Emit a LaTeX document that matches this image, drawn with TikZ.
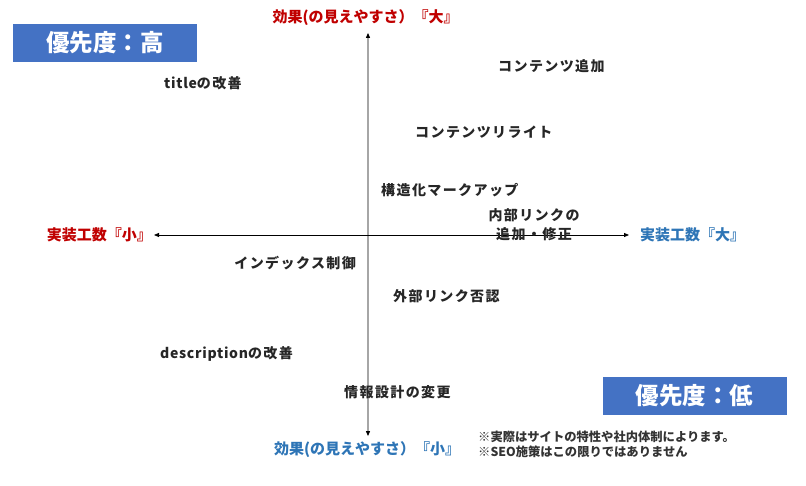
\documentclass[tikz,border=0pt]{standalone}
\usepackage{fontspec}
\setmainfont{Noto Sans CJK JP}
\newfontfamily\jpsp{Noto Sans CJK JP}[LetterSpace=10]
\newfontfamily\latsp{Noto Sans CJK JP}[LetterSpace=5]
\usetikzlibrary{arrows.meta,calc}
\definecolor{axred}{HTML}{C00000}
\definecolor{axblue}{HTML}{2E75B6}
\definecolor{boxblue}{HTML}{4472C4}
\definecolor{axgray}{HTML}{A6A6A6}
\begin{document}
\begin{tikzpicture}[x=1pt,y=-1pt,
  item/.style={font=\jpsp\fontsize{14}{15}\selectfont\bfseries, text=black!85, inner sep=0pt, align=center},
  axlab/.style={font=\fontsize{15}{15}\selectfont\bfseries, inner sep=0pt},
  prio/.style={fill=boxblue, text=white, font=\fontsize{23.5}{24}\selectfont\bfseries, minimum width=184pt, minimum height=38pt, inner sep=0pt},
  note/.style={font=\fontsize{12.3}{15}\selectfont\bfseries, text=black!80, inner sep=0pt, align=left}
]
\useasboundingbox (0,0) rectangle (806,486);
% axes endpoints
\coordinate (top) at (368,33);
\coordinate (bot) at (368,436);
\coordinate (left) at (154,235);
\coordinate (right) at (629,235);
\coordinate (orig) at (368,235);
\draw[axgray, line width=1.5pt] (orig) -- ($(top)+(0,4)$) coordinate (topin);
\draw[axgray, line width=1.5pt] (orig) -- ($(bot)-(0,4)$) coordinate (botin);
\fill[black] (top) -- ++(-2.2,5) -- ++(4.4,0) -- cycle;
\fill[black] (bot) -- ++(-2.2,-5) -- ++(4.4,0) -- cycle;
\draw[black, line width=0.8pt, {Triangle[length=5pt,width=4pt]}-{Triangle[length=5pt,width=4pt]}] (left) -- (right);

% axis labels
\node[axlab, text=axred] (ltop) at (365.5,18) {効果(の見えやすさ）『大』};
\node[axlab, text=axblue] (lbot) at (367,450) {効果(の見えやすさ）『小』};
\node[axlab, text=axred, anchor=east] (lleft) at (152,235) {実装工数『小』};
\node[axlab, text=axblue, anchor=west] (lright) at (640,235) {実装工数『大』};

% priority boxes
\node[prio] (high) at (105,43) {優先度：高};
\node[prio] (low) at (694.5,396) {優先度：低};

% items
\node[item, anchor=west] (title) at (164,83) {{\latsp title}の改善};
\node[item, anchor=west] (cadd) at (498,66) {コンテンツ追加};
\node[item, anchor=west] (crew) at (415,132) {コンテンツリライト};
\node[item, anchor=west] (struct) at (381,190) {構造化マークアップ};
\node[item, font=\jpsp\fontsize{14}{19}\selectfont\bfseries] (inner) at (534,225) {内部リンクの\\追加・修正};
\node[item, anchor=east] (index) at (356,263) {インデックス制御};
\node[item, anchor=west] (ext) at (393,296) {外部リンク否認};
\node[item, anchor=west] (desc) at (160,354) {{\latsp description}の改善};
\node[item, anchor=west] (info) at (344,392) {情報設計の変更};

% note
\node[note, anchor=north west] (nt) at (478,431) {※実際はサイトの特性や社内体制によります。\\※SEO施策はこの限りではありません};
\end{tikzpicture}
\end{document}
